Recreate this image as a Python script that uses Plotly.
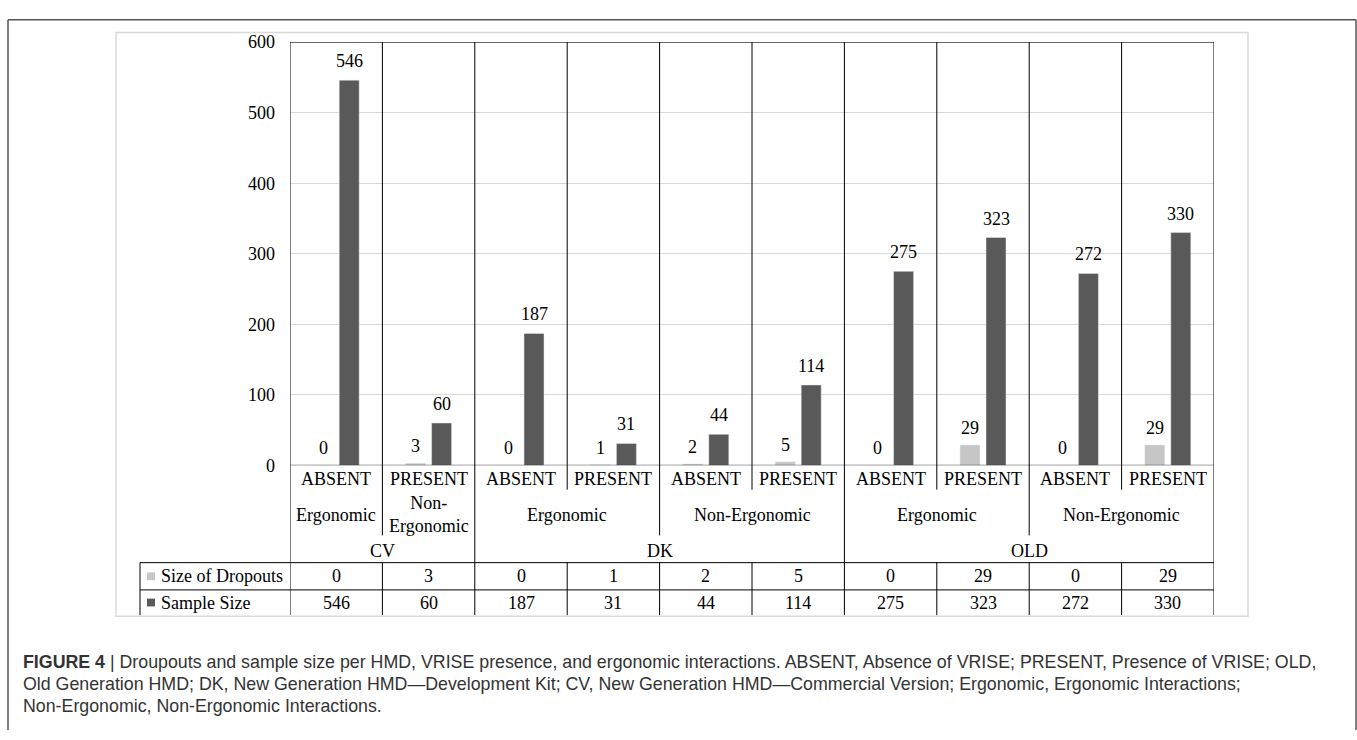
import plotly.graph_objects as go

# ---------------- data ----------------
hmd = ["CV", "CV", "DK", "DK", "DK", "DK", "OLD", "OLD", "OLD", "OLD"]
interaction = ["Ergonomic", "Non-Ergonomic", "Ergonomic", "Ergonomic", "Non-Ergonomic",
               "Non-Ergonomic", "Ergonomic", "Ergonomic", "Non-Ergonomic", "Non-Ergonomic"]
vrise = ["ABSENT", "PRESENT", "ABSENT", "PRESENT", "ABSENT", "PRESENT",
         "ABSENT", "PRESENT", "ABSENT", "PRESENT"]
dropouts = [0, 3, 0, 1, 2, 5, 0, 29, 0, 29]
sample_size = [546, 60, 187, 31, 44, 114, 275, 323, 272, 330]
series_names = ["Size of Dropouts", "Sample Size"]
y_ticks = [0, 100, 200, 300, 400, 500, 600]
caption_lines = [
    "<b>FIGURE 4</b> | Droupouts and sample size per HMD, VRISE presence, and ergonomic interactions. ABSENT, Absence of VRISE; PRESENT, Presence of VRISE; OLD,",
    "Old Generation HMD; DK, New Generation HMD\u2014Development Kit; CV, New Generation HMD\u2014Commercial Version; Ergonomic, Ergonomic Interactions;",
    "Non-Ergonomic, Non-Ergonomic Interactions.",
]

# ---------------- layout helpers ----------------
W, H = 1357, 740
def px(x): return x / W
def py(y): return 1 - y / H

PLOT_L, PLOT_R, PLOT_T, PLOT_B = 290, 1214, 33, 468
TABLE_L, TABLE_T, TABLE_M, TABLE_B = 140, 568, 596, 622
SERIF = "Liberation Serif"
FS = 18
LIGHT = "#c6c6c6"
DARK = "#595959"
n = len(vrise)
x_idx = list(range(n))

slot = 13 / 92.4
bw = 20 / 92.4

fig = go.Figure()
fig.add_trace(go.Bar(x=x_idx, y=dropouts, name=series_names[0], marker_color=LIGHT,
                     width=bw, offset=-slot - bw / 2, showlegend=False))
fig.add_trace(go.Bar(x=x_idx, y=sample_size, name=series_names[1], marker_color=DARK,
                     width=bw, offset=slot - bw / 2, showlegend=False))

shapes = []
annotations = []
line_k = dict(color="black", width=1)

# data labels
for i in range(n):
    annotations.append(dict(x=i - slot, y=dropouts[i], xref="x", yref="y", text=str(dropouts[i]),
                            showarrow=False, yanchor="middle", yshift=17,
                            font=dict(family=SERIF, size=FS, color="black")))
    annotations.append(dict(x=i + slot, y=sample_size[i], xref="x", yref="y", text=str(sample_size[i]),
                            showarrow=False, yanchor="middle", yshift=19,
                            font=dict(family=SERIF, size=FS, color="black")))

# plot-area frame
shapes.append(dict(type="line", xref="x", yref="y", x0=-0.5, x1=n - 0.5, y0=600, y1=600, line=line_k))
shapes.append(dict(type="line", xref="x", yref="y", x0=-0.5, x1=n - 0.5, y0=0, y1=0, line=line_k))
for xe in (-0.5, n - 0.5):
    shapes.append(dict(type="line", xref="x", yref="paper", x0=xe, x1=xe,
                       y0=py(PLOT_T), y1=py(TABLE_B), line=line_k))

# category separators
for i in range(n - 1):
    xb = i + 0.5
    if hmd[i] != hmd[i + 1]:
        end = TABLE_B
    else:
        if interaction[i] != interaction[i + 1]:
            end = 540
        else:
            end = 493
        # table column line
        shapes.append(dict(type="line", xref="x", yref="paper", x0=xb, x1=xb,
                           y0=py(TABLE_T), y1=py(TABLE_B), line=line_k))
    shapes.append(dict(type="line", xref="x", yref="paper", x0=xb, x1=xb,
                       y0=py(PLOT_T), y1=py(end), line=line_k))

# table lines
for yy in (TABLE_T, TABLE_M):
    shapes.append(dict(type="line", xref="paper", yref="paper", x0=px(TABLE_L), x1=px(PLOT_R),
                       y0=py(yy), y1=py(yy), line=line_k))
shapes.append(dict(type="line", xref="paper", yref="paper", x0=px(TABLE_L), x1=px(TABLE_L),
                   y0=py(TABLE_T), y1=py(TABLE_B), line=line_k))

# level 1 labels
for i in range(n):
    annotations.append(dict(x=i, y=py(482), xref="x", yref="paper", text=vrise[i], showarrow=False,
                            yanchor="middle", font=dict(family=SERIF, size=FS, color="black")))

# level 2 and 3 labels (group spans)
def spans(keys):
    out = []
    start = 0
    for i in range(1, n + 1):
        if i == n or keys[i] != keys[start]:
            out.append((start, i - 1))
            start = i
    return out

lvl2_keys = [h + "|" + e for h, e in zip(hmd, interaction)]
for s, e in spans(lvl2_keys):
    label = interaction[s]
    if e == s and "-" in label:
        label = label.replace("-", "-<br>", 1)
        yy = 518
    else:
        yy = 519
    annotations.append(dict(x=(s + e) / 2, y=py(yy), xref="x", yref="paper", text=label,
                            showarrow=False, yanchor="middle",
                            font=dict(family=SERIF, size=FS, color="black")))
for s, e in spans(hmd):
    annotations.append(dict(x=(s + e) / 2, y=py(556), xref="x", yref="paper", text=hmd[s],
                            showarrow=False, yanchor="middle",
                            font=dict(family=SERIF, size=FS, color="black")))

# data table
for row, (vals, yy, col) in enumerate(((dropouts, 582, LIGHT), (sample_size, 609, DARK))):
    for i in range(n):
        annotations.append(dict(x=i, y=py(yy), xref="x", yref="paper", text=str(vals[i]),
                                showarrow=False, yanchor="middle",
                                font=dict(family=SERIF, size=FS, color="black")))
    annotations.append(dict(x=px(159), y=py(yy), xref="paper", yref="paper", text=series_names[row],
                            showarrow=False, xanchor="left", yanchor="middle",
                            font=dict(family=SERIF, size=FS, color="black")))
    shapes.append(dict(type="rect", xref="paper", yref="paper", x0=px(147), x1=px(155),
                       y0=py(yy - 4), y1=py(yy + 4), fillcolor=col, line=dict(width=0)))

# chart-area border (light)
shapes.append(dict(type="rect", xref="paper", yref="paper", x0=px(116), x1=px(1248),
                   y0=py(23), y1=py(623), line=dict(color="#dadada", width=1.5)))
# outer figure frame (open at the bottom edge of the page)
frame = dict(color="#555555", width=1.5)
shapes.append(dict(type="line", xref="paper", yref="paper", x0=px(8), x1=px(1356),
                   y0=py(10), y1=py(10), line=frame))
for xe in (8, 1356):
    shapes.append(dict(type="line", xref="paper", yref="paper", x0=px(xe), x1=px(xe),
                       y0=py(10), y1=0, line=frame))

# caption
for k, txt in enumerate(caption_lines):
    annotations.append(dict(x=px(21), y=py(670 + 22.5 * k), xref="paper", yref="paper", text=txt,
                            showarrow=False, xanchor="left", yanchor="middle", align="left",
                            font=dict(family="Liberation Sans", size=17.8, color="#333333")))

fig.update_layout(
    width=W, height=H,
    margin=dict(l=0, r=0, t=0, b=0),
    paper_bgcolor="white", plot_bgcolor="white",
    barmode="overlay",
    xaxis=dict(domain=[px(PLOT_L), px(PLOT_R)], range=[-0.5, n - 0.5], showticklabels=False,
               showgrid=False, zeroline=False, showline=False, fixedrange=True),
    yaxis=dict(domain=[py(PLOT_B), py(PLOT_T)], range=[0, 600], tickvals=y_ticks,
               showgrid=True, gridcolor="#d9d9d9", gridwidth=1, zeroline=False, showline=False,
               ticks="", ticklabelstandoff=14,
               tickfont=dict(family=SERIF, size=FS, color="black"), fixedrange=True),
    shapes=shapes,
    annotations=annotations,
)

fig.write_html("out.html", config={"displayModeBar": False},
               post_script="document.body.style.margin='0px';document.body.style.overflow='hidden';")
